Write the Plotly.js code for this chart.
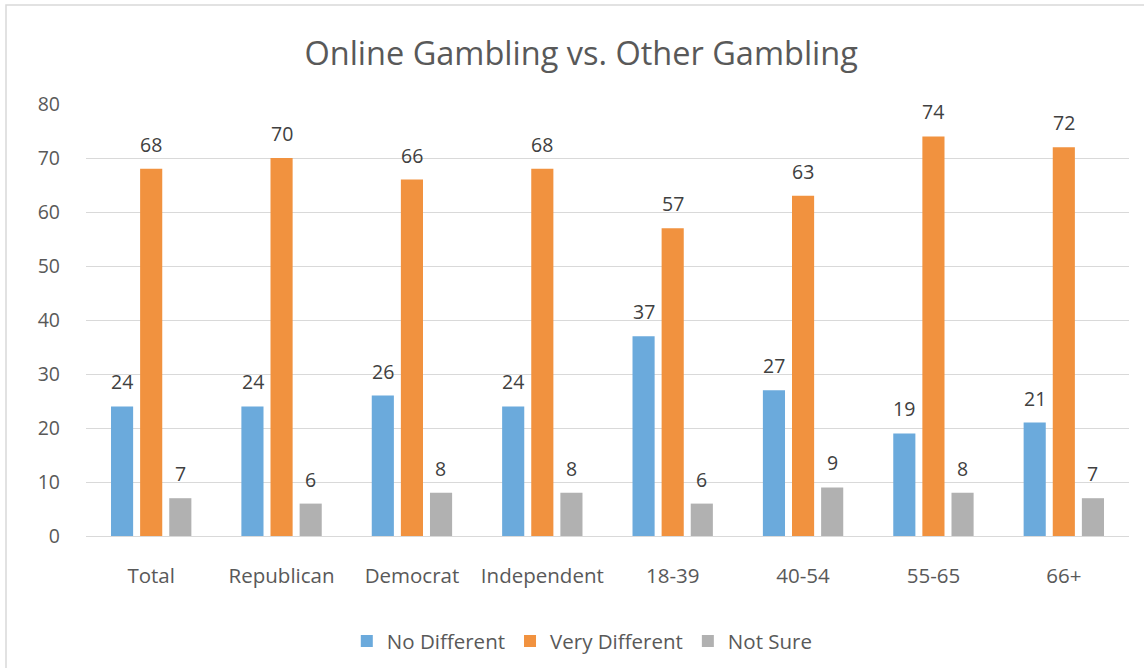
<!DOCTYPE html>
<html>
<head>
<meta charset="utf-8">
<script src="https://cdn.plot.ly/plotly-3.0.1.min.js"></script>
<style>
html,body{margin:0;padding:0;background:#fff;}
#chart{width:1144px;height:668px;}
</style>
</head>
<body>
<div id="chart"></div>
<script>
var categories = ["Total", "Republican", "Democrat", "Independent", "18-39", "40-54", "55-65", "66+"];
var noDifferent = [24, 24, 26, 24, 37, 27, 19, 21];
var veryDifferent = [68, 70, 66, 68, 57, 63, 74, 72];
var notSure = [7, 6, 8, 8, 6, 9, 8, 7];
var seriesNames = ["No Different", "Very Different", "Not Sure"];
var yTicks = [0, 10, 20, 30, 40, 50, 60, 70, 80];

var colors = ["#6BAADC", "#F1923F", "#B1B1B1"];
var series = [noDifferent, veryDifferent, notSure];
var font = "Open Sans, Liberation Sans, sans-serif";

var traces = series.map(function (vals, i) {
  return {
    type: "bar",
    name: seriesNames[i],
    x: categories,
    y: vals,
    marker: {color: colors[i]},
    hoverinfo: "none"
  };
});

var annotations = [];
series.forEach(function (vals, i) {
  vals.forEach(function (v, j) {
    annotations.push({
      x: categories[j], y: v, xref: "x", yref: "y",
      text: String(v), showarrow: false,
      xshift: (i - 1) * 29, yanchor: "bottom", yshift: 9,
      font: {family: font, size: 19.5, color: "#404040"}
    });
  });
});

var layout = {
  width: 1144, height: 668,
  paper_bgcolor: "#fff", plot_bgcolor: "#fff",
  margin: {l: 86, r: 15, t: 104, b: 132, autoexpand: false},
  title: {text: "Online Gambling vs. Other Gambling", x: 0.508, xanchor: "center", y: 0.92, yanchor: "middle",
          xref: "container",
          font: {family: font, size: 32.5, color: "#595959"}},
  barmode: "group", bargap: 0.33, bargroupgap: 0.24,
  xaxis: {type: "category", showgrid: false, zeroline: false, showline: false, automargin: false,
          ticks: "", ticklabelstandoff: 25,
          tickfont: {family: font, size: 20.5, color: "#595959"}},
  yaxis: {range: [0, 80], tickvals: yTicks, showgrid: true, gridcolor: "#D9D9D9", gridwidth: 1,
          zeroline: true, zerolinecolor: "#D9D9D9", zerolinewidth: 1, showline: false, ticks: "",
          automargin: false, ticklabelstandoff: 25,
          tickfont: {family: font, size: 19.5, color: "#595959"}},
  legend: {orientation: "h", xref: "container", yref: "container", x: 0.509, xanchor: "center",
           y: 0.04, yanchor: "middle",
           font: {family: font, size: 20.5, color: "#595959"}, itemwidth: 30, tracegroupgap: 0},
  showlegend: true,
  annotations: annotations,
  shapes: [{type: "rect", xref: "paper", yref: "paper", x0: -0.0767, x1: 1.5, y0: -1, y1: 1.229,
            line: {color: "#D9D9D9", width: 1.5}, fillcolor: "rgba(0,0,0,0)", layer: "below"}]
};

Plotly.newPlot("chart", traces, layout, {displayModeBar: false, staticPlot: true});
</script>
</body>
</html>
